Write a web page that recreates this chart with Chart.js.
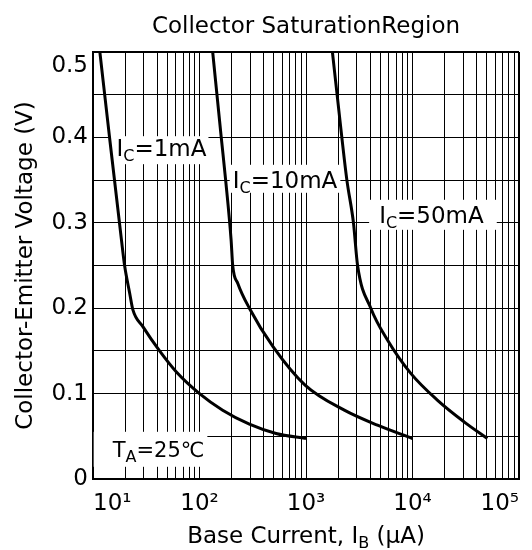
<!DOCTYPE html>
<html>
<head>
<meta charset="utf-8">
<title>Collector Saturation Region</title>
<script src="https://cdn.jsdelivr.net/npm/chart.js@4/dist/chart.umd.min.js"></script>
<style>
  html, body { margin: 0; padding: 0; background: #fff; }
  #wrap { width: 532px; height: 550px; position: relative; }
</style>
</head>
<body>
<div id="wrap"><canvas id="satChart"></canvas></div>
<script>
// Base current (uA) / Vce(sat) (V)
const ibIc1 = [11.6, 14.3, 18.5, 19.8, 22.1, 23.7, 29.4, 42.2, 60.4, 100, 165, 294, 524, 1000];
const vceIc1 = [0.5, 0.4, 0.28, 0.25, 0.2176, 0.198, 0.1784, 0.150, 0.1256, 0.100, 0.0806, 0.0642, 0.0533, 0.0474];
const ibIc10 = [133, 160, 176, 198, 205, 229, 294, 490, 980, 2290, 4690, 10000];
const vceIc10 = [0.5, 0.4, 0.35, 0.28, 0.25, 0.229, 0.2, 0.155, 0.11, 0.0806, 0.063, 0.0474];
const ibIc50 = [1770, 2170, 2420, 2790, 3050, 4060, 5820, 9640, 17100, 30500, 50400];
const vceIc50 = [0.5, 0.4, 0.35, 0.3, 0.25, 0.2, 0.1628, 0.1237, 0.0924, 0.0669, 0.0474];

const seriesNames = ['IC=1mA', 'IC=10mA', 'IC=50mA'];
const xTickLabels = ['10¹', '10²', '10³', '10⁴', '10⁵'];
const yTickLabels = ['0', '0.1', '0.2', '0.3', '0.4', '0.5'];

const FONT = '"DejaVu Sans", "Noto Sans", sans-serif';

// log grid: 1..9 per decade, no 1.5 steps
const xGrid = [];
for (let e = 1; e <= 4; e++) {
    for (let k = 1; k <= 9; k++) xGrid.push(k * Math.pow(10, e));
}
xGrid.push(1e5);

// text boxes on the plot (value coords for the text start / baseline)
const notes = [
    { ib: 16.6, v: 0.378, main: 'I', sub: 'C', rest: '=1mA', size: 23, pad: [8, 2, 20, 8] },
    { ib: 205, v: 0.341, main: 'I', sub: 'C', rest: '=10mA', size: 23, pad: [3, 3, 23, 5] },
    { ib: 4860, v: 0.300, main: 'I', sub: 'C', rest: '=50mA', size: 23, pad: [10, 13, 23, 7] },
    { ib: 15.3, v: 0.026, main: 'T', sub: 'A', rest: '=25℃', size: 21, pad: [19, 3, 25, 10] }
];

function drawSub(ctx, main, sub, rest, x, y, size) {
    ctx.font = size + 'px ' + FONT;
    ctx.fillText(main, x, y);
    x += ctx.measureText(main).width;
    ctx.font = '16px ' + FONT;
    ctx.fillText(sub, x, y + 5);
    x += ctx.measureText(sub).width;
    ctx.font = size + 'px ' + FONT;
    ctx.fillText(rest, x, y);
    return x + ctx.measureText(rest).width;
}

function subWidth(ctx, main, sub, rest, size) {
    ctx.font = size + 'px ' + FONT;
    let w = ctx.measureText(main).width + ctx.measureText(rest).width;
    ctx.font = '16px ' + FONT;
    return w + ctx.measureText(sub).width;
}

const annotate = {
    id: 'annotate',
    beforeDatasetsDraw(chart) {
        const { ctx, scales: { x, y } } = chart;
        ctx.save();
        ctx.textBaseline = 'alphabetic';
        ctx.textAlign = 'left';
        notes.forEach(n => {
            const px = x.getPixelForValue(n.ib);
            const py = y.getPixelForValue(n.v);
            const w = subWidth(ctx, n.main, n.sub, n.rest, n.size);
            ctx.fillStyle = '#fff';
            ctx.fillRect(px - n.pad[0], py - n.pad[2], w + n.pad[0] + n.pad[1], n.pad[2] + n.pad[3]);
            ctx.fillStyle = '#000';
            drawSub(ctx, n.main, n.sub, n.rest, px, py, n.size);
        });
        ctx.restore();
    },
    afterDraw(chart) {
        const { ctx, chartArea: area, scales: { y } } = chart;
        const cx = (area.left + area.right) / 2;
        ctx.save();
        ctx.fillStyle = '#000';
        ctx.textBaseline = 'alphabetic';

        // chart title
        ctx.font = '23px ' + FONT;
        ctx.textAlign = 'center';
        ctx.fillText('Collector SaturationRegion', cx, 33);

        // x axis title with subscript
        ctx.textAlign = 'left';
        const w = subWidth(ctx, 'Base Current, I', 'B', ' (μA)', 23);
        drawSub(ctx, 'Base Current, I', 'B', ' (μA)', cx - w / 2, 543, 23);

        // top y label sits below the frame line
        ctx.font = '23px ' + FONT;
        ctx.textAlign = 'right';
        ctx.textBaseline = 'middle';
        ctx.fillText(yTickLabels[5], area.left - 5, y.getPixelForValue(0.5) + 14);
        ctx.restore();
    }
};

const makeSet = (name, xs, ys) => ({
    label: name,
    data: xs.map((v, i) => ({ x: v, y: ys[i] })),
    borderColor: '#000',
    borderWidth: 3,
    pointRadius: 0,
    fill: false,
    cubicInterpolationMode: 'monotone'
});

new Chart(document.getElementById('satChart'), {
    type: 'line',
    data: {
        datasets: [
            makeSet(seriesNames[0], ibIc1, vceIc1),
            makeSet(seriesNames[1], ibIc10, vceIc10),
            makeSet(seriesNames[2], ibIc50, vceIc50)
        ]
    },
    options: {
        responsive: true,
        maintainAspectRatio: false,
        animation: false,
        layout: { padding: { top: 52, right: 13, bottom: 0, left: 0 } },
        plugins: { legend: { display: false }, tooltip: { enabled: false } },
        scales: {
            x: {
                type: 'logarithmic',
                min: 10,
                max: 1e5,
                afterBuildTicks: s => { s.ticks = xGrid.map(v => ({ value: v })); },
                afterFit: s => { s.height = 71; s.paddingLeft = 0; s.paddingRight = 0; },
                border: { color: '#000', width: 2 },
                grid: {
                    color: '#000',
                    lineWidth: c => (c.tick && c.tick.value === 1e5 ? 2 : 1),
                    drawTicks: false
                },
                ticks: {
                    autoSkip: false,
                    maxRotation: 0,
                    align: 'inner',
                    padding: 11,
                    color: '#000',
                    font: { family: FONT, size: 23 },
                    callback: v => {
                        const e = Math.log10(v);
                        return Math.abs(e - Math.round(e)) < 1e-9 ? xTickLabels[Math.round(e) - 1] : '';
                    }
                }
            },
            y: {
                type: 'linear',
                min: 0,
                max: 0.5,
                afterFit: s => { s.width = 93; },
                border: { color: '#000', width: 2 },
                grid: {
                    color: '#000',
                    lineWidth: c => (c.tick && Math.abs(c.tick.value - 0.5) < 1e-9 ? 2 : 1),
                    drawTicks: false
                },
                title: {
                    display: true,
                    text: 'Collector-Emitter Voltage (V)',
                    color: '#000',
                    font: { family: FONT, size: 23 },
                    padding: { top: 12, bottom: 0 }
                },
                ticks: {
                    stepSize: 0.05,
                    autoSkip: false,
                    padding: 5,
                    color: '#000',
                    font: { family: FONT, size: 23 },
                    callback: v => {
                        const n = Math.round(v * 100);
                        if (n % 10 !== 0 || n === 50) return '';
                        return yTickLabels[n / 10];
                    }
                }
            }
        }
    },
    plugins: [annotate]
});
</script>
</body>
</html>
